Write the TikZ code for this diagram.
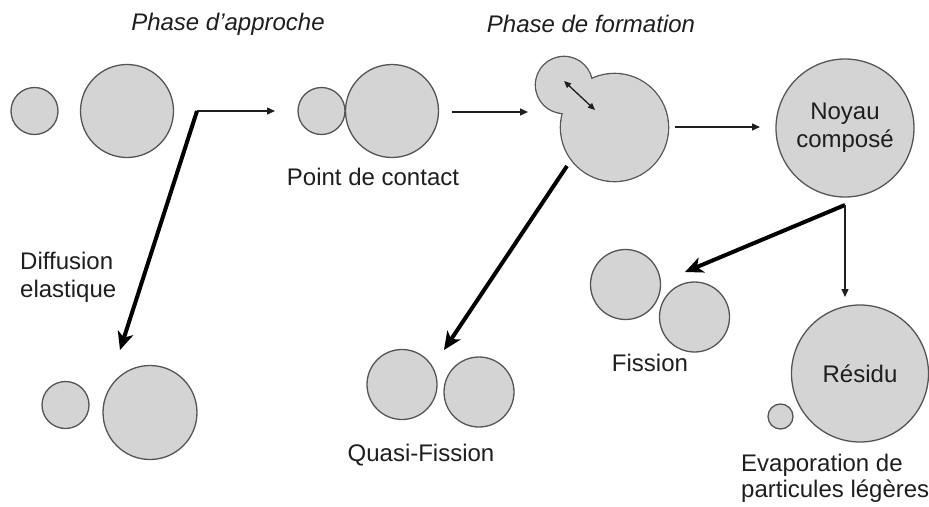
\documentclass[tikz,border=0pt]{standalone}
\usepackage{fontspec}
\setmainfont{Liberation Sans}
\usetikzlibrary{arrows.meta}
\definecolor{ballfill}{HTML}{D4D4D4}
\definecolor{balledge}{HTML}{555555}
\definecolor{txt}{HTML}{1E1E1E}
\begin{document}
\begin{tikzpicture}[x=1pt,y=-1pt,
  ball/.style={circle,draw=balledge,fill=ballfill,line width=1.3pt,inner sep=0pt,outer sep=0pt},
  lbl/.style={text=txt,font=\fontsize{24}{28}\selectfont,inner sep=0pt},
  ttl/.style={text=txt,font=\fontsize{24}{28}\selectfont\itshape,inner sep=0pt},
  thin/.style={draw=txt,line width=1.3pt,-{Triangle[length=8pt,width=7pt]}},
  thick/.style={draw=black,line width=4pt,-{Stealth[length=18pt,width=16pt,inset=5pt]}}]
\useasboundingbox (0,0) rectangle (929,506);
% titles
\node[ttl] (t1) at (228,24) {Phase d’approche};
\node[ttl] (t2) at (591,24) {Phase de formation};
% initial
\node[ball,minimum size=47pt] (a1) at (34.5,111) {};
\node[ball,minimum size=93pt] (a2) at (127,111) {};
% contact
\node[ball,minimum size=47pt] (b1) at (321.5,111) {};
\node[ball,minimum size=93pt] (b2) at (392,111) {};
\node[lbl] (contact) at (373,177) {Point de contact};
% formation (merged shape)
\node[ball,minimum size=56pt,line width=2.6pt] (fs) at (564,85) {};
\node[ball,minimum size=107pt,line width=2.6pt] (fb) at (614.5,127.5) {};
\fill[ballfill] (fs.center) circle (28) (fb.center) circle (53.5);
\coordinate (d1) at (564,81);
\coordinate (d2) at (595,110);
\draw[line width=1.3pt,draw=txt,{Triangle[length=7pt,width=6pt]}-{Triangle[length=7pt,width=6pt]}] (d1) -- (d2);
% compound nucleus
\node[ball,minimum size=138pt,lbl,align=center] (nc) at (845,128) {Noyau\\compos\'e};
% elastic
\node[ball,minimum size=47pt] (e1) at (65.5,405) {};
\node[ball,minimum size=94pt] (e2) at (150,412.5) {};
\node[lbl,anchor=west,align=left] (diff) at (20,277) {Diffusion\\elastique};
% quasi-fission
\node[ball,minimum size=70pt] (q1) at (402,384.5) {};
\node[ball,minimum size=70pt] (q2) at (479,392) {};
\node[lbl] (quasi) at (421,455) {Quasi-Fission};
% fission
\node[ball,minimum size=70pt] (f1) at (625.5,284.5) {};
\node[ball,minimum size=70pt] (f2) at (694.5,317) {};
\node[lbl] (fission) at (650,363) {Fission};
% residue
\node[ball,minimum size=137pt,lbl] (res) at (860,373.5) {R\'esidu};
\node[ball,minimum size=25pt] (pt) at (780.5,416.5) {};
\node[lbl,anchor=west,align=left,font=\fontsize{24}{26}\selectfont] (evap) at (741,478) {Evaporation de\\particules l\'eg\`eres};
% connectors
\coordinate (elbow) at (197,111);
\coordinate (ctip) at (275,111);
\coordinate (etip) at (120,350);
\draw[thin] (elbow) -- (ctip);
\draw[thick] (elbow) -- (etip);
\coordinate (c1) at (452,112);
\coordinate (c2) at (528,112);
\draw[thin] (c1) -- (c2);
\coordinate (g1) at (675,127);
\coordinate (g2) at (760,127);
\draw[thin] (g1) -- (g2);
\coordinate (qs) at (567,166);
\coordinate (qt) at (444,350);
\draw[thick] (qs) -- (qt);
\coordinate (ns) at (845,205);
\coordinate (ft) at (685,272);
\coordinate (rt) at (845,297);
\draw[thick] (ns) -- (ft);
\draw[thin] (ns) -- (rt);
\end{tikzpicture}
\end{document}
